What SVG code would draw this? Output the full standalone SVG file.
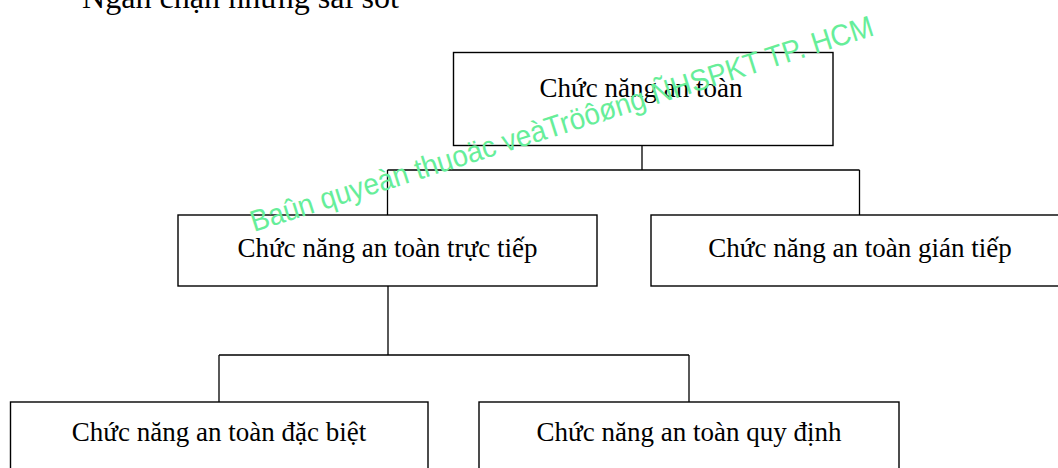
<svg xmlns="http://www.w3.org/2000/svg" width="1058" height="468" viewBox="0 0 1058 468">
<style>
.box{fill:#fff;stroke:#000;stroke-width:1.4}
.lbl{font-family:"Liberation Serif","Times New Roman",serif;font-size:27px;fill:#000;text-anchor:middle}
.con{fill:none;stroke:#000;stroke-width:1.3}
.wm{font-family:"Liberation Sans",Arial,sans-serif;font-size:30px;fill:#66EE99}
</style>
<rect width="1058" height="468" fill="#fff"/>
<text x="82" y="8" font-family="Liberation Serif, Times New Roman, serif" font-size="32" textLength="317" lengthAdjust="spacingAndGlyphs">Ngăn chặn những sai sót</text>
<g id="connectors">
<path class="con" d="M642,145.5 V170 M387.5,170 H859.5 M387.5,170 V215 M859.5,170 V215"/>
<path class="con" d="M388,286 V355 M219,355 H689 M219,355 V402 M689,355 V402"/>
</g>
<g id="n-root">
<rect class="box" x="453.5" y="52.5" width="379.5" height="93"/>
<text class="lbl" x="641" y="97" font-size="29">Chức năng an toàn</text>
</g>
<g id="n-direct">
<rect class="box" x="178" y="215" width="419" height="71"/>
<text class="lbl" x="387.5" y="257">Chức năng an toàn trực tiếp</text>
</g>
<g id="n-indirect">
<rect class="box" x="651" y="215" width="420" height="71"/>
<text class="lbl" x="860" y="257">Chức năng an toàn gián tiếp</text>
</g>
<g id="n-special">
<rect class="box" x="10.5" y="402" width="417.5" height="80"/>
<text class="lbl" x="219" y="441">Chức năng an toàn đặc biệt</text>
</g>
<g id="n-regulated">
<rect class="box" x="479" y="402" width="420" height="80"/>
<text class="lbl" x="689" y="441">Chức năng an toàn quy định</text>
</g>
<text class="wm" x="254" y="232" transform="rotate(-17.6 254 232)" textLength="652" lengthAdjust="spacingAndGlyphs">Baûn quyeàn thuoäc veàTröôøng ÑHSPKT TP. HCM</text>
</svg>
